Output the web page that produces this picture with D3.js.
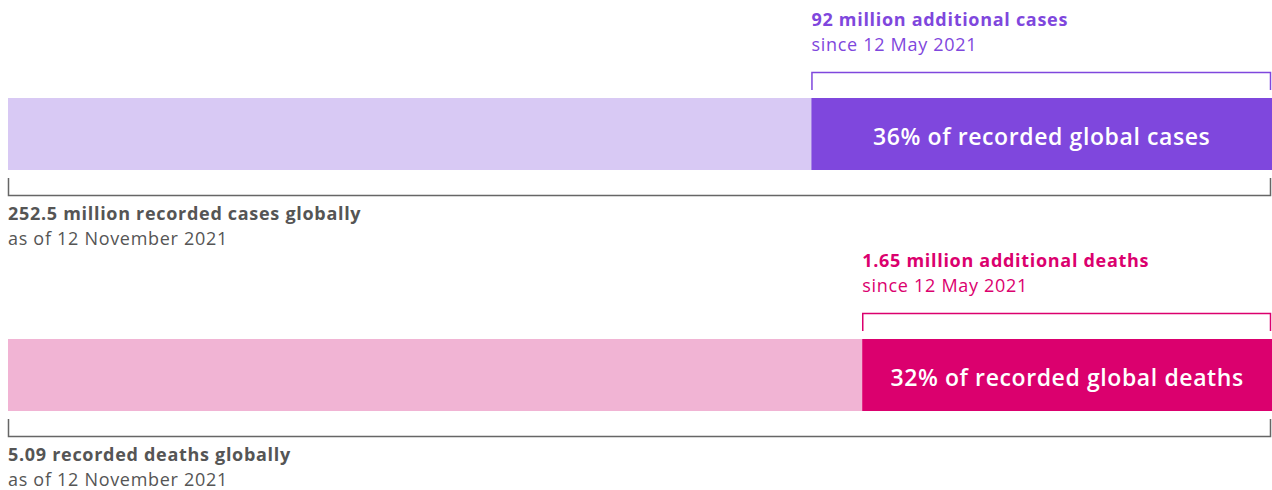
<!DOCTYPE html>
<html><head><meta charset="utf-8">
<script src="https://cdn.jsdelivr.net/npm/d3@7"></script>
<style>body{margin:0;background:#fff;}svg{display:block;font-family:"Open Sans",Lato,sans-serif;}</style>
</head><body><svg id="c" width="1272" height="490"></svg>
<script>
const metrics = ["cases", "deaths"];
const totals = [252.5, 5.09];
const additional = [92, 1.65];
const topLabels = ["92 million additional cases", "1.65 million additional deaths"];
const sinceLabels = ["since 12 May 2021", "since 12 May 2021"];
const barLabels = ["36% of recorded global cases", "32% of recorded global deaths"];
const totalLabels = ["252.5 million recorded cases globally", "5.09 recorded deaths globally"];
const asOfLabels = ["as of 12 November 2021", "as of 12 November 2021"];
const darkColors = ["#7F47DD", "#DB006E"];
const lightColors = ["#D8C9F4", "#F1B4D4"];

const svg = d3.select("#c");
const W = 1272, left = 8;
const y0s = [98, 339];
const barH = 72;
const fs = 18, ls = 0.7;

metrics.forEach((m, i) => {
  const x = d3.scaleLinear().domain([0, totals[i]]).range([left, W]);
  const g = svg.append("g");
  const y = y0s[i];
  const xs = x(totals[i] - additional[i]);
  g.append("rect").attr("x", x(0)).attr("y", y).attr("width", x(totals[i]) - x(0)).attr("height", barH).attr("fill", lightColors[i]);
  g.append("rect").attr("x", xs).attr("y", y).attr("width", x(totals[i]) - xs).attr("height", barH).attr("fill", darkColors[i]);
  g.append("text").attr("x", (xs + x(totals[i])) / 2).attr("y", y + 47).attr("text-anchor", "middle")
    .attr("fill", "#fff").attr("font-size", 23).attr("font-weight", 600).attr("letter-spacing", 0.6).text(barLabels[i]);
  const tb = y - 26;
  g.append("path").attr("d", `M${xs + 0.5},${y - 8}V${tb + 0.5}H${W - 1.5}V${y - 8}`)
    .attr("fill", "none").attr("stroke", darkColors[i]).attr("stroke-width", 1.5);
  g.append("text").attr("x", xs).attr("y", tb - 46).attr("fill", darkColors[i]).attr("font-size", fs).attr("font-weight", 700).attr("letter-spacing", ls).text(topLabels[i]);
  g.append("text").attr("x", xs).attr("y", tb - 21).attr("fill", darkColors[i]).attr("font-size", fs).attr("letter-spacing", ls).text(sinceLabels[i]);
  const bb = y + barH + 25;
  g.append("path").attr("d", `M${x(0) + 0.5},${y + barH + 8}V${bb + 0.5}H${W - 1.5}V${y + barH + 8}`)
    .attr("fill", "none").attr("stroke", "#666").attr("stroke-width", 1.5);
  g.append("text").attr("x", x(0)).attr("y", bb + 25).attr("fill", "#555").attr("font-size", fs).attr("font-weight", 700).attr("letter-spacing", ls).text(totalLabels[i]);
  g.append("text").attr("x", x(0)).attr("y", bb + 50).attr("fill", "#555").attr("font-size", fs).attr("letter-spacing", ls).text(asOfLabels[i]);
});
</script></body></html>
